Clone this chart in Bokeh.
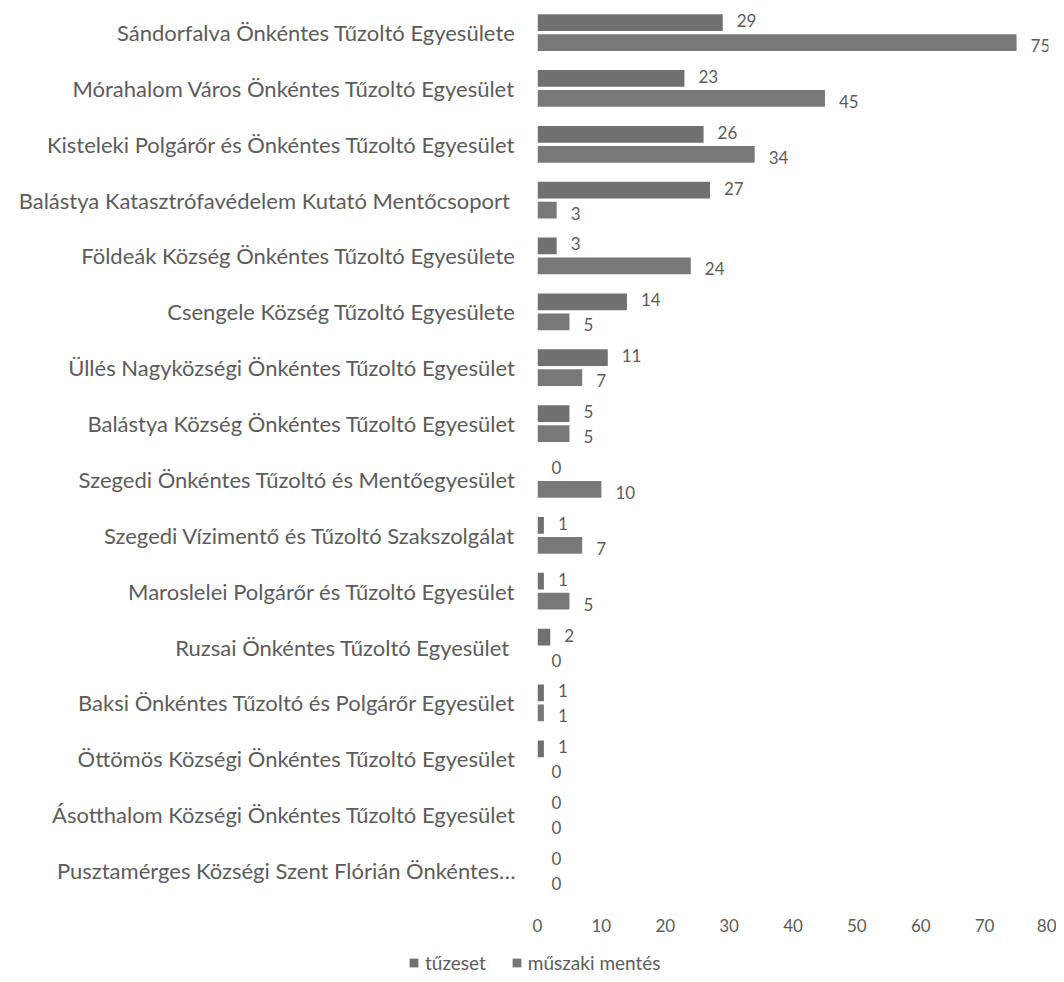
from bokeh.plotting import figure
from bokeh.models import ColumnDataSource, Range1d, FixedTicker, Legend, LegendItem
from bokeh.layouts import column
from bokeh.embed import file_html
from bokeh.resources import INLINE
from bokeh.core.properties import value

categories = [
    "Sándorfalva Önkéntes Tűzoltó Egyesülete",
    "Mórahalom Város Önkéntes Tűzoltó Egyesület",
    "Kisteleki Polgárőr és Önkéntes Tűzoltó Egyesület",
    "Balástya Katasztrófavédelem Kutató Mentőcsoport ",
    "Földeák Község Önkéntes Tűzoltó Egyesülete",
    "Csengele Község Tűzoltó Egyesülete",
    "Üllés Nagyközségi Önkéntes Tűzoltó Egyesület",
    "Balástya Község Önkéntes Tűzoltó Egyesület",
    "Szegedi Önkéntes Tűzoltó és Mentőegyesület",
    "Szegedi Vízimentő és Tűzoltó Szakszolgálat",
    "Maroslelei Polgárőr és Tűzoltó Egyesület",
    "Ruzsai Önkéntes Tűzoltó Egyesület ",
    "Baksi Önkéntes Tűzoltó és Polgárőr Egyesület",
    "Öttömös Községi Önkéntes Tűzoltó Egyesület",
    "Ásotthalom Községi Önkéntes Tűzoltó Egyesület",
    "Pusztamérges Községi Szent Flórián Önkéntes…",
]
tuzeset = [29, 23, 26, 27, 3, 14, 11, 5, 0, 1, 1, 2, 1, 1, 0, 0]
muszaki = [75, 45, 34, 3, 24, 5, 7, 5, 10, 7, 5, 0, 1, 0, 0, 0]
series_names = ["tűzeset", "műszaki mentés"]
x_ticks = [0, 10, 20, 30, 40, 50, 60, 70, 80]

FONT = "Lato"
TXT = "#5c5c5c"
C1 = "#707070"
C2 = "#787878"

n = len(categories)
rows = [n - 1 - k for k in range(n)]
off = 0.179

src1 = ColumnDataSource(dict(y=[r + off for r in rows], v=tuzeset, t=[str(v) for v in tuzeset]))
src2 = ColumnDataSource(dict(y=[r - off for r in rows], v=muszaki, t=[str(v) for v in muszaki]))

p = figure(width=1056, height=934, output_backend="svg", toolbar_location=None,
           x_range=Range1d(0, 80), y_range=Range1d(-0.644, n - 1 + 0.43),
           min_border_left=537, min_border_right=8, min_border_top=8, min_border_bottom=0)
p.frame_align = False

r1 = p.hbar(y="y", right="v", left=0, height=0.30, source=src1, fill_color=C1, line_color=None)
r2 = p.hbar(y="y", right="v", left=0, height=0.30, source=src2, fill_color=C2, line_color=None)

p.text(x="v", y="y", text="t", source=src1, x_offset=14, y_offset=-2, text_baseline="middle",
       text_align="left", text_font=value(FONT), text_font_size="17px", text_color=TXT)
p.text(x="v", y="y", text="t", source=src2, x_offset=14, y_offset=3, text_baseline="middle",
       text_align="left", text_font=value(FONT), text_font_size="17px", text_color=TXT)

p.outline_line_color = None
p.grid.visible = False

xa = p.xaxis[0]
xa.ticker = FixedTicker(ticks=x_ticks)
xa.axis_line_color = None
xa.major_tick_line_color = None
xa.minor_tick_line_color = None
xa.major_label_standoff = 6
xa.major_label_text_font = FONT
xa.major_label_text_font_size = "17px"
xa.major_label_text_color = TXT

ya = p.yaxis[0]
ya.ticker = FixedTicker(ticks=rows)
ya.major_label_overrides = {r: c for r, c in zip(rows, categories)}
ya.axis_line_color = None
ya.major_tick_line_color = None
ya.minor_tick_line_color = None
ya.major_label_standoff = 16
ya.major_label_text_font = FONT
ya.major_label_text_font_size = "22px"
ya.major_label_text_color = TXT

# legend in a small strip figure below
lf = figure(width=1056, height=46, output_backend="svg", toolbar_location=None,
            x_range=Range1d(-10, -5), y_range=Range1d(-10, -5),
            min_border_left=0, min_border_right=0, min_border_top=0, min_border_bottom=0)
lf.frame_align = False
lf.axis.visible = False
lf.grid.visible = False
lf.outline_line_color = None
l1 = lf.hbar(y="y", right="v", left=0, height=0.3, source=src1, fill_color=C1, line_color=None)
l2 = lf.hbar(y="y", right="v", left=0, height=0.3, source=src2, fill_color=C2, line_color=None)
legend = Legend(items=[LegendItem(label=series_names[0], renderers=[l1]),
                       LegendItem(label=series_names[1], renderers=[l2])],
                orientation="horizontal", location=(408, 6),
                glyph_width=11, glyph_height=11, label_height=14,
                label_text_font=FONT, label_text_font_size="19px", label_text_color=TXT,
                label_standoff=6, spacing=25, padding=0, margin=0,
                border_line_color=None, background_fill_alpha=0)
lf.add_layout(legend)

layout = column(p, lf, spacing=0)
open("out.html", "w").write(file_html(layout, INLINE))
